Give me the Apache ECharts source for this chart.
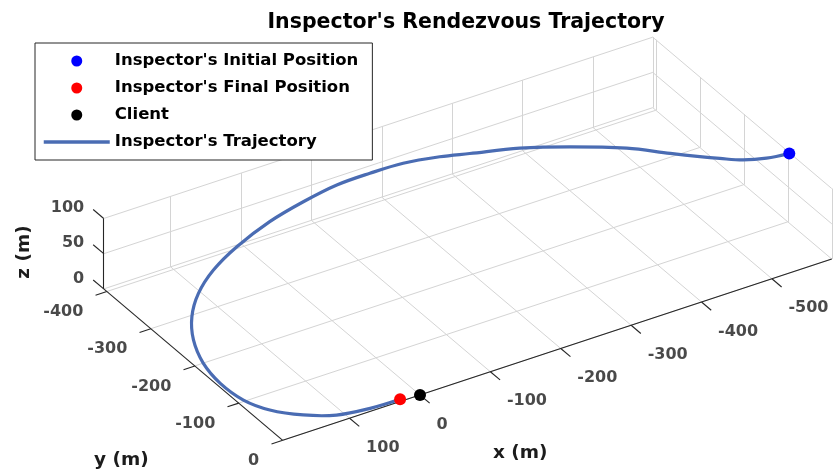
<!DOCTYPE html>
<html lang="en">
<head>
<meta charset="utf-8">
<title>Inspector's Rendezvous Trajectory</title>
<script src="https://cdn.jsdelivr.net/npm/echarts@6/dist/echarts.min.js"></script>
<style>
  html, body { margin: 0; padding: 0; background: #fff; }
  #chart { width: 833px; height: 474px; }
</style>
</head>
<body>
<div id="chart"></div>
<script>
// inspector trajectory samples (m)
var trajX = [-584, -561, -541, -524, -510, -488, -455, -404, -354, -300, -268, -224.5, -181, -135.5, -87, -38, 16.5, 63.5, 104.5, 138.5, 165, 183, 190, 186.5, 171.5, 143.5, 109.5, 67, 25.5];
var trajY = [-95, -110, -131, -157, -180, -212, -258, -305, -340, -367, -384, -397.5, -403.5, -406, -404.5, -402.5, -390, -368, -336.5, -297, -251, -200, -150, -103, -67, -36, -14.5, -6, -4.5];
var trajZ = [100, 93, 86, 80, 75, 70, 64, 58, 54, 50, 47, 45, 42, 39, 32, 21, 10, 4, 1, 0, 0, 0, 0, 0, 0, 0, 0, 0, 0];
var clientPos = [0, 0, 0];

// axes
var xTicks = [100, 0, -100, -200, -300, -400, -500];
var yTicks = [-400, -300, -200, -100, 0];
var zTicks = [0, 50, 100];
var xLim = [-585, 195];
var yLim = [-407, 0];
var zLim = [0, 100];

// camera, like matlab view(az, el)
var az = 148, el = 31.9;
var pxPerM = 0.83;
var originPx = [420, 395];
var W = 833, H = 474;

var FONT = 'DejaVu Sans';
var AXIS_COLOR = '#262626';
var LABEL_COLOR = '#1c1c1c';
var TRAJ_COLOR = '#4a6cb3';

function proj(p) {
    var a = az * Math.PI / 180, e = el * Math.PI / 180;
    var u = p[0] * Math.cos(a) + p[1] * Math.sin(a);
    var v = -p[0] * Math.sin(a) * Math.sin(e) + p[1] * Math.cos(a) * Math.sin(e) + p[2] * Math.cos(e);
    return [u, v];
}
function seg(p1, p2) {
    return {coords: [proj(p1), proj(p2)]};
}

// back planes grid
var gridSegs = [];
xTicks.forEach(function (t) {
    gridSegs.push(seg([t, yLim[0], zLim[0]], [t, yLim[1], zLim[0]]));
    gridSegs.push(seg([t, yLim[0], zLim[0]], [t, yLim[0], zLim[1]]));
});
yTicks.forEach(function (t) {
    gridSegs.push(seg([xLim[0], t, zLim[0]], [xLim[1], t, zLim[0]]));
    gridSegs.push(seg([xLim[0], t, zLim[0]], [xLim[0], t, zLim[1]]));
});
zTicks.forEach(function (t) {
    gridSegs.push(seg([xLim[0], yLim[0], t], [xLim[1], yLim[0], t]));
    gridSegs.push(seg([xLim[0], yLim[0], t], [xLim[0], yLim[1], t]));
});
gridSegs.push(seg([xLim[0], yLim[0], zLim[0]], [xLim[0], yLim[0], zLim[1]]));

// axis lines + ticks
var axisSegs = [
    seg([xLim[0], yLim[1], zLim[0]], [xLim[1], yLim[1], zLim[0]]),
    seg([xLim[1], yLim[0], zLim[0]], [xLim[1], yLim[1], zLim[0]]),
    seg([xLim[1], yLim[0], zLim[0]], [xLim[1], yLim[0], zLim[1]])
];
xTicks.forEach(function (t) { axisSegs.push(seg([t, yLim[1], zLim[0]], [t, yLim[1] + 22, zLim[0]])); });
yTicks.forEach(function (t) { axisSegs.push(seg([xLim[1], t, zLim[0]], [xLim[1] + 16, t, zLim[0]])); });
zTicks.forEach(function (t) { axisSegs.push(seg([xLim[1], yLim[0], t], [xLim[1], yLim[0] - 24, t])); });

function tickLabels(ticks, toPoint, pos, align, vAlign) {
    return {
        type: 'scatter', silent: true, symbolSize: 1, z: 3,
        itemStyle: {color: 'rgba(0,0,0,0)'},
        label: {
            show: true, position: pos, align: align, verticalAlign: vAlign,
            formatter: function (p) { return String(ticks[p.dataIndex]); },
            fontFamily: FONT, fontWeight: 'bold', fontSize: 16, color: LABEL_COLOR
        },
        data: ticks.map(function (t) { return proj(toPoint(t)); })
    };
}

var trajData = trajX.map(function (x, i) { return proj([x, trajY[i], trajZ[i]]); });
var last = trajX.length - 1;

function marker(name, color, pos) {
    return {
        name: name, type: 'scatter', z: 5, symbolSize: 12,
        itemStyle: {color: color, opacity: 1},
        data: [proj(pos)]
    };
}

var chart = echarts.init(document.getElementById('chart'));
chart.setOption({
    animation: false,
    backgroundColor: '#fff',
    title: {
        text: "Inspector's Rendezvous Trajectory",
        left: 461, top: 7, textAlign: 'center',
        textStyle: {fontFamily: FONT, fontWeight: 'bold', fontSize: 20.5, color: '#000'}
    },
    grid: {left: 0, right: 0, top: 0, bottom: 0},
    xAxis: {type: 'value', show: false, min: -originPx[0] / pxPerM, max: (W - originPx[0]) / pxPerM},
    yAxis: {type: 'value', show: false, min: -(H - originPx[1]) / pxPerM, max: originPx[1] / pxPerM},
    legend: {
        orient: 'vertical', left: 35, top: 43,
        padding: [8, 14, 8, 7], itemGap: 7, itemWidth: 66, itemHeight: 11,
        backgroundColor: '#fff', borderColor: AXIS_COLOR, borderWidth: 1, borderRadius: 0,
        selectedMode: false,
        itemStyle: {opacity: 1},
        textStyle: {fontFamily: FONT, fontWeight: 'bold', fontSize: 16.5, color: '#000', lineHeight: 20},
        data: [
            "Inspector's Initial Position",
            "Inspector's Final Position",
            'Client',
            {name: "Inspector's Trajectory", itemStyle: {opacity: 0}, lineStyle: {width: 3.5, color: TRAJ_COLOR}}
        ]
    },
    graphic: [
        {type: 'text', left: 493, top: 444, style: {text: 'x (m)', font: 'bold 18.5px "DejaVu Sans"', fill: LABEL_COLOR}},
        {type: 'text', left: 94, top: 451, style: {text: 'y (m)', font: 'bold 18.5px "DejaVu Sans"', fill: LABEL_COLOR}},
        {type: 'text', x: 24, y: 252, rotation: Math.PI / 2, style: {text: 'z (m)', font: 'bold 18.5px "DejaVu Sans"', fill: LABEL_COLOR, align: 'center', verticalAlign: 'middle'}}
    ],
    series: [
        {
            type: 'lines', coordinateSystem: 'cartesian2d', silent: true, z: 1,
            lineStyle: {color: '#d4d4d4', width: 1, opacity: 1},
            data: gridSegs
        },
        {
            type: 'lines', coordinateSystem: 'cartesian2d', silent: true, z: 2,
            lineStyle: {color: AXIS_COLOR, width: 1.1, opacity: 1},
            data: axisSegs
        },
        tickLabels(xTicks, function (t) { return [t, yLim[1], zLim[0]]; }, [17, 30], 'left', 'middle'),
        tickLabels(yTicks, function (t) { return [xLim[1], t, zLim[0]]; }, [-23, 21], 'right', 'middle'),
        tickLabels(zTicks, function (t) { return [xLim[1], yLim[0], t]; }, [-19, -10], 'right', 'middle'),
        // trajectory drawn as one smooth path through the samples
        {
            type: 'custom', z: 4, silent: true,
            data: trajData,
            renderItem: function (params, api) {
                if (params.dataIndex !== 0) return null;
                var pts = trajData.map(function (d) { return api.coord(d); });
                return {
                    type: 'polyline',
                    shape: {points: pts, smooth: 0.35},
                    style: {stroke: TRAJ_COLOR, lineWidth: 3.2, fill: null, lineJoin: 'round', lineCap: 'round'}
                };
            }
        },
        // legend entry for the trajectory
        {
            name: "Inspector's Trajectory", type: 'line', data: [], symbol: 'none',
            lineStyle: {color: TRAJ_COLOR, width: 3.5}, itemStyle: {color: TRAJ_COLOR}
        },
        marker('Client', '#000000', clientPos),
        marker("Inspector's Final Position", '#ff0000', [trajX[last], trajY[last], trajZ[last]]),
        marker("Inspector's Initial Position", '#0000ff', [trajX[0], trajY[0], trajZ[0]])
    ]
});
</script>
</body>
</html>
